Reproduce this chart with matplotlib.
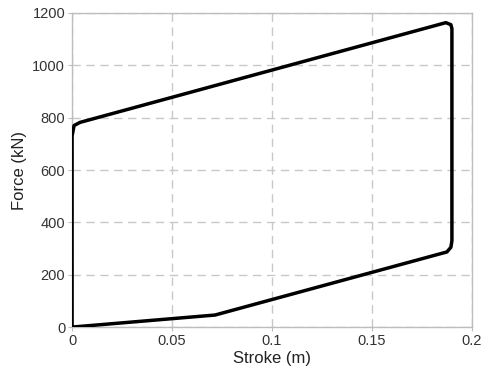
import matplotlib.pyplot as plt

# Force-stroke loop
stroke = [0.0, 0.0715, 0.1875, 0.1895, 0.1900, 0.1900, 0.1895, 0.1870, 0.0040, 0.0010, 0.0, 0.0]
force = [0, 46, 287, 305, 330, 1140, 1155, 1163, 782, 770, 730, 0]

xticks = [0, 0.05, 0.1, 0.15, 0.2]
xtick_labels = ['0', '0.05', '0.1', '0.15', '0.2']
yticks = [0, 200, 400, 600, 800, 1000, 1200]

plt.rcParams['font.family'] = ['Liberation Sans', 'DejaVu Sans']
plt.rcParams['font.size'] = 10.5

fig = plt.figure(figsize=(4.87, 3.70), dpi=100)
ax = fig.add_axes([0.148, 0.116, 0.821, 0.849])

ax.plot(stroke, force, color='black', linewidth=2.5, solid_joinstyle='round', zorder=3)

ax.set_xlim(0, 0.2)
ax.set_ylim(0, 1200)
ax.set_xticks(xticks)
ax.set_xticklabels(xtick_labels)
ax.set_yticks(yticks)
ax.grid(True, linestyle=(0, (6, 4)), color='#c8c8c8', linewidth=1)
ax.tick_params(length=3, width=0.8, color='#bdbdbd', labelcolor='#333333', pad=2)
for s in ax.spines.values():
    s.set_color('#bdbdbd')
    s.set_linewidth(1)

ax.set_xlabel('Stroke (m)', color='#222222', fontsize=12, labelpad=2)
ax.set_ylabel('Force (kN)', color='#222222', fontsize=12, labelpad=4)

fig.savefig('out.png', dpi=100)
